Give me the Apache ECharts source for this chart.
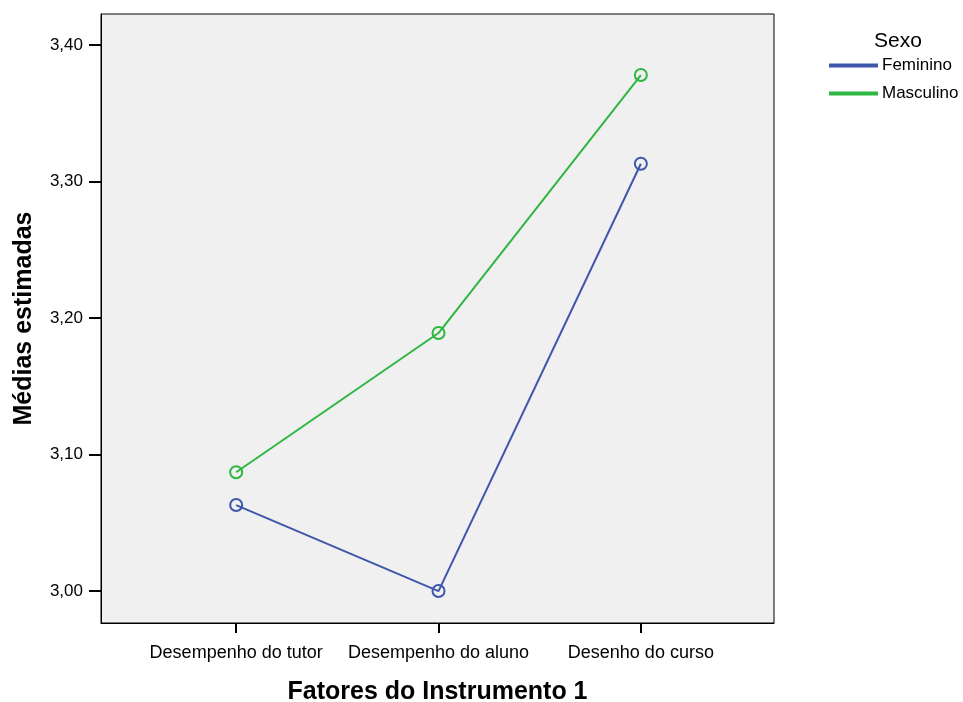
<!DOCTYPE html>
<html><head><meta charset="utf-8">
<script src="https://cdn.jsdelivr.net/npm/echarts@6/dist/echarts.min.js"></script>
<style>html,body{margin:0;padding:0;background:#fff}#c{width:963px;height:702px}</style>
</head><body><div id="c"></div>
<script>
const categories = ['Desempenho do tutor', 'Desempenho do aluno', 'Desenho do curso'];
const feminino = [3.063, 3.000, 3.313];
const masculino = [3.087, 3.189, 3.378];
const yTicks = [3.0, 3.1, 3.2, 3.3, 3.4];
const seriesNames = ['Feminino', 'Masculino'];
const colors = ['#3f56ab', '#2fb741'];

const chart = echarts.init(document.getElementById('c'), null, {renderer: 'canvas'});
const font = 'Arial, "Liberation Sans", sans-serif';
function pts(arr){ return arr.map((v,i)=>[i,v]); }
const option = {
  animation: false,
  textStyle: {fontFamily: font},
  title: {text: 'Sexo', left: 869, top: 26, textStyle: {fontFamily: font, fontSize: 21, fontWeight: 'normal', color: '#000'}},
  legend: {
    orient: 'vertical', left: 829, top: 57, padding: 0, itemWidth: 47, itemHeight: 2, itemGap: 11,
    icon: 'rect',
    textStyle: {fontFamily: font, fontSize: 17, color: '#000', padding:[0,0,0,0]},
    data: [
      {name: seriesNames[0], itemStyle: {color: colors[0]}},
      {name: seriesNames[1], itemStyle: {color: colors[1]}}
    ]
  },
  grid: {left: 101, top: 14, width: 673, height: 609, show: true, outerBoundsMode: 'none', containLabel: false,
    backgroundColor: '#f0f0f0', borderColor: '#000', borderWidth: 1},
  xAxis: {
    type: 'value', min: -0.668, max: 2.658,
    name: 'Fatores do Instrumento 1', nameLocation: 'middle', nameGap: 57,
    nameTextStyle: {fontFamily: font, fontSize: 25, fontWeight: 'bold', color: '#000'},
    axisLine: {show: true, onZero: false, lineStyle: {color: '#000', width: 1}},
    axisTick: {show: true, length: 10, lineStyle: {color: '#000', width: 2}, customValues: [0,1,2]},
    axisLabel: {customValues: [0,1,2], margin: 21, fontSize: 18, color: '#000', fontFamily: font,
      formatter: v => categories[Math.round(v)] || ''},
    splitLine: {show: false}
  },
  yAxis: {
    type: 'value', min: 2.9766, max: 3.4227,
    name: 'Médias estimadas', nameLocation: 'middle', nameGap: 64, nameRotate: 90,
    nameTextStyle: {fontFamily: font, fontSize: 25, fontWeight: 'bold', color: '#000'},
    axisLine: {show: true, onZero: false, lineStyle: {color: '#000', width: 1}},
    axisTick: {show: true, length: 12, lineStyle: {color: '#000', width: 2}, customValues: yTicks},
    axisLabel: {customValues: yTicks, margin: 18, fontSize: 17, color: '#000', fontFamily: font,
      formatter: v => v.toFixed(2).replace('.', ',')},
    splitLine: {show: false}
  },
  series: [
    {name: seriesNames[0], type: 'line', data: pts(feminino), symbol: 'circle', symbolSize: 12,
     lineStyle: {color: colors[0], width: 2},
     itemStyle: {color: 'rgba(0,0,0,0)', borderColor: colors[0], borderWidth: 2}},
    {name: seriesNames[1], type: 'line', data: pts(masculino), symbol: 'circle', symbolSize: 12,
     lineStyle: {color: colors[1], width: 2},
     itemStyle: {color: 'rgba(0,0,0,0)', borderColor: colors[1], borderWidth: 2}}
  ]
};
chart.setOption(option);
</script></body></html>
